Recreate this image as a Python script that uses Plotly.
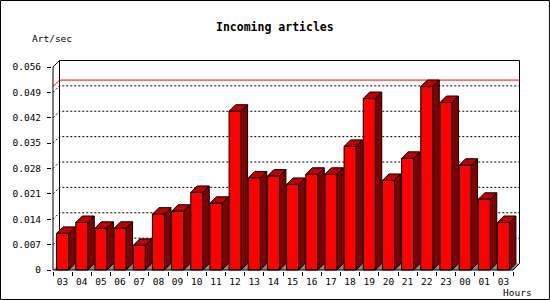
import plotly.graph_objects as go

# ---------------- data ----------------
hours = ["03", "04", "05", "06", "07", "08", "09", "10", "11", "12", "13", "14",
         "15", "16", "17", "18", "19", "20", "21", "22", "23", "00", "01", "03"]
rates = [0.0101, 0.0131, 0.0115, 0.0115, 0.0068, 0.0154, 0.0162, 0.0214,
         0.0184, 0.0438, 0.0254, 0.0259, 0.0236, 0.0264, 0.0264, 0.0341,
         0.0473, 0.0247, 0.0308, 0.0506, 0.0462, 0.0289, 0.0195, 0.0131]
ytick_vals = [0, 0.007, 0.014, 0.021, 0.028, 0.035, 0.042, 0.049, 0.056]
ytick_text = ["0", "0.007", "0.014", "0.021", "0.028", "0.035", "0.042", "0.049", "0.056"]
title_text = "Incoming articles"
y_label = "Art/sec"
x_label = "Hours"

# ---------------- geometry ----------------
FIG_W, FIG_H = 550, 300
PX_X = 19.17                 # px per category slot
PX_Y = 203 / 0.056           # px per unit on y
DX = 6.5 / PX_X              # 3D depth offset (x)
DY = 6.5 / PX_Y              # 3D depth offset (y)
BW = 12 / PX_X               # bar front width
YTOP = ytick_vals[-1]
n = len(rates)

xr0 = -0.5 - 1 / PX_X
xr1 = n - 0.5 + DX + 1.5 / PX_X
yr0 = -1 / PX_Y
yr1 = YTOP + DY + 1.5 / PX_Y
plot_w = (xr1 - xr0) * PX_X
plot_h = (yr1 - yr0) * PX_Y
ML = 52
MB = 29
MR = FIG_W - ML - plot_w
MT = FIG_H - MB - plot_h


def px_x(px):
    return (px - ML) / plot_w


def px_y(py):
    return (FIG_H - MB - py) / plot_h


FONT = "DejaVu Sans Mono"
RED = "#ff0000"
TOP = "#c00000"
SIDE = "#800000"

fig = go.Figure()

# floor
fig.add_trace(go.Scatter(
    x=[-0.5, n - 0.5, n - 0.5 + DX, -0.5 + DX, -0.5],
    y=[0, 0, DY, DY, 0], fill="toself", fillcolor="#8c8c8c",
    mode="lines", line=dict(width=0), hoverinfo="skip", showlegend=False))

# dotted grid on back wall
gx, gy = [], []
for v in ytick_vals[1:-1]:
    gx += [-0.5, -0.5 + DX, n - 0.5 + DX, None]
    gy += [v, v + DY, v + DY, None]
fig.add_trace(go.Scatter(x=gx, y=gy, mode="lines",
                         line=dict(color="black", width=1, dash="2px,2px"),
                         hoverinfo="skip", showlegend=False))

# max line (red)
vmax = max(rates)
fig.add_trace(go.Scatter(x=[-0.5, -0.5 + DX, n - 0.5 + DX],
                         y=[vmax, vmax + DY, vmax + DY], mode="lines",
                         line=dict(color="red", width=1),
                         hoverinfo="skip", showlegend=False))

# back wall frame
fig.add_trace(go.Scatter(
    x=[-0.5 + DX, -0.5 + DX, n - 0.5 + DX, n - 0.5 + DX, n - 0.5, None, -0.5, -0.5 + DX],
    y=[DY, YTOP + DY, YTOP + DY, DY, 0, None, YTOP, YTOP + DY],
    mode="lines", line=dict(color="black", width=1),
    hoverinfo="skip", showlegend=False))

# bars: side, top, front faces
sx, sy, tx, ty, fx, fy = [], [], [], [], [], []
for i, v in enumerate(rates):
    l, r = i - BW / 2, i + BW / 2
    sx += [r, r + DX, r + DX, r, r, None]
    sy += [0, DY, v + DY, v, 0, None]
    tx += [l, r, r + DX, l + DX, l, None]
    ty += [v, v, v + DY, v + DY, v, None]
    fx += [l, r, r, l, l, None]
    fy += [0, 0, v, v, 0, None]
for xs, ys, col in [(sx, sy, SIDE), (tx, ty, TOP), (fx, fy, RED)]:
    fig.add_trace(go.Scatter(x=xs, y=ys, fill="toself", fillcolor=col, mode="lines",
                             line=dict(color="black", width=1),
                             hoverinfo="skip", showlegend=False))

# front axis lines
fig.add_trace(go.Scatter(x=[-0.5, -0.5, None, -0.5, n - 0.5],
                         y=[YTOP, 0, None, 0, 0], mode="lines",
                         line=dict(color="black", width=1),
                         hoverinfo="skip", showlegend=False))

fig.update_layout(
    width=FIG_W, height=FIG_H,
    margin=dict(l=ML, r=MR, t=MT, b=MB, pad=0),
    paper_bgcolor="white", plot_bgcolor="white",
    font=dict(family=FONT, size=10, color="black"),
    xaxis=dict(range=[xr0, xr1], tickvals=list(range(n)), ticktext=hours,
               ticks="", showgrid=False, zeroline=False, showline=False,
               ticklabelstandoff=3,
               tickfont=dict(family=FONT, size=9.5, color="black"),
               minor=dict(tickvals=[i - 0.5 for i in range(n + 1)], ticks="outside",
                          ticklen=4, tickcolor="black", tickwidth=1, showgrid=False),
               fixedrange=True),
    yaxis=dict(range=[yr0, yr1], tickvals=ytick_vals, ticktext=ytick_text,
               ticks="outside", ticklen=4, tickcolor="black", tickwidth=1,
               showgrid=False, zeroline=False, showline=False,
               ticklabelstandoff=4,
               tickfont=dict(family=FONT, size=9.5, color="black"),
               fixedrange=True),
    annotations=[
        dict(text="<b>" + title_text + "</b>", xref="paper", yref="paper",
             x=px_x(275), y=px_y(27), xanchor="center", yanchor="middle",
             showarrow=False, font=dict(family=FONT, size=11.5, color="black")),
        dict(text=y_label, xref="paper", yref="paper",
             x=px_x(30), y=px_y(38.5), xanchor="left", yanchor="middle",
             showarrow=False, font=dict(family=FONT, size=9.5, color="black")),
        dict(text=x_label, xref="paper", yref="paper",
             x=px_x(534), y=px_y(292.5), xanchor="right", yanchor="middle",
             showarrow=False, font=dict(family=FONT, size=9.5, color="black")),
    ],
    shapes=[dict(type="rect", xref="paper", yref="paper",
                 x0=px_x(0.5), x1=px_x(549.5), y0=px_y(299.5), y1=px_y(0.5),
                 line=dict(color="black", width=1), layer="above")],
)

fig.write_html("out.html")
